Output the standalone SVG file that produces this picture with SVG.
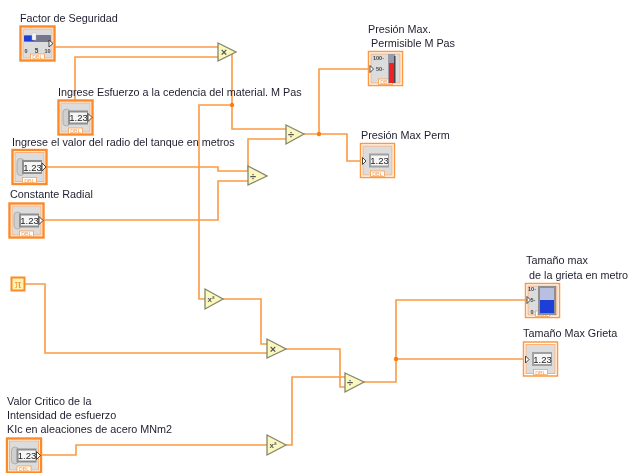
<svg xmlns="http://www.w3.org/2000/svg" width="631" height="473" viewBox="0 0 631 473">
<style>
svg>g{filter:url(#soft)}
text{font-family:"Liberation Sans",sans-serif;font-size:10.8px;fill:#1f1f30}
.w{fill:none;stroke:#fb9a45;stroke-width:1.6}
.out{fill:none;stroke:#fb9a45;stroke-width:1.5}
.ctlo{fill:none;stroke:#fb8a2a;stroke-width:2.4}
.bg{fill:#dcdcdc;stroke:#fbb27a;stroke-width:1}
.tri{fill:#fbf8bf;stroke:#85856a;stroke-width:1.3}
.op{font-size:11px;font-weight:bold;fill:#555;text-anchor:middle}
.sq{font-size:8px;font-weight:bold;fill:#555;text-anchor:middle}
.dbl{font-size:5.5px;fill:#fb9a45;text-anchor:middle}
.num{font-size:9.500px;fill:#222;text-anchor:middle}
.tick{font-size:5.500px;fill:#444;text-anchor:middle;font-weight:bold}
.j{fill:#fb7d10}
.dt{fill:#fff;stroke:#fb9f4c;stroke-width:.8}
.term{fill:#fff;stroke:#333;stroke-width:.9}
</style>
<defs>
<filter id="soft" filterUnits="userSpaceOnUse" x="0" y="0" width="631" height="473"><feGaussianBlur stdDeviation="0.35"/></filter>
<g id="frameC"><rect x=".5" y=".5" width="34" height="34" fill="#fff" class="ctlo"/><rect x="3" y="3" width="29" height="29" class="bg"/><rect x="10.500" y="28" width="14" height="5.500" class="dt"/><text x="17.500" y="33" class="dbl">DBL</text></g>
<g id="frameI"><rect x=".5" y=".5" width="34" height="34" fill="#fff" class="out"/><rect x="3" y="3" width="29" height="29" class="bg"/><rect x="10.500" y="28" width="14" height="5.500" class="dt"/><text x="17.500" y="33" class="dbl">DBL</text></g>
<g id="numC"><use href="#frameC"/><rect x="5" y="9" width="7" height="17" rx="3.500" fill="#cfcfcf" stroke="#999" stroke-width=".6"/><rect x="10" y="10.500" width="20" height="14" fill="#8e8e8e"/><rect x="12" y="12.500" width="17" height="10" fill="#f6f6f6"/><text x="20.500" y="21" class="num">1.23</text><path d="M30 13.500l4 4-4 4z" class="term"/></g>
<g id="numI"><use href="#frameI"/><rect x="9" y="10.500" width="20" height="14" fill="#a0a0a0"/><rect x="11" y="12.500" width="17" height="10" fill="#f6f6f6"/><text x="19.500" y="21" class="num">1.23</text><path d="M2.500 14.500l3.500 3.500-3.500 3.500z" class="term"/></g>
</defs>

<g id="connectors">
<path class="w" d="M54 47H218"/>
<path class="w" d="M75 100V57H218"/>
<path class="w" d="M232 52V129H286"/>
<path class="w" d="M232 105H199V299H205"/>
<path class="w" d="M248 170V139H286"/>
<path class="w" d="M46 167H218V171H248"/>
<path class="w" d="M43 220H218V181H248"/>
<path class="w" d="M304 134H347V161H361"/>
<path class="w" d="M319 134V69H368"/>
<path class="w" d="M25 284H45V353H267"/>
<path class="w" d="M223 299H261V344H267"/>
<path class="w" d="M286 349H340V387H345"/>
<path class="w" d="M41 455H76V445H267"/>
<path class="w" d="M286 445H292V377H345"/>
<path class="w" d="M364 382H396V300H527"/>
<path class="w" d="M396 359H524"/>
<circle class="j" cx="232" cy="105" r="2.200"/>
<circle class="j" cx="319" cy="134" r="2.200"/>
<circle class="j" cx="396" cy="359" r="2.200"/>
</g>

<g id="factor-seguridad">
<use href="#frameC" x="20" y="26"/>
<rect x="24" y="35" width="27" height="7" rx="1" fill="#76768c"/><rect x="24" y="36" width="10" height="5" fill="#1e3fd6"/><rect x="32" y="33" width="4" height="7" fill="#f4f4f4" stroke="#bbb" stroke-width=".4"/>
<text x="26" y="52.500" class="tick">0</text><text x="36.500" y="53" class="tick" style="font-size:6.500px">5</text><text x="47.500" y="52.500" class="tick">10</text>
<path d="M49 40l4 3.500-4 3.500z" class="term"/>
<text x="20" y="22">Factor de Seguridad</text>
</g>
<g id="esfuerzo"><use href="#numC" x="58" y="100"/><text x="58" y="96">Ingrese Esfuerzo a la cedencia del material. M Pas</text></g>
<g id="radio"><use href="#numC" x="12" y="149.500"/><text x="12" y="146">Ingrese el valor del radio del tanque en metros</text></g>
<g id="constante"><use href="#numC" x="9" y="203"/><text x="10" y="198">Constante Radial</text></g>
<g id="pi"><rect x="11.500" y="277.500" width="13" height="13" fill="#fdf3b0" stroke="#fb8a2a" stroke-width="2"/><text x="18" y="288" style="font-family:'Liberation Serif',serif;font-size:13px;fill:#fb8a2a;text-anchor:middle">π</text></g>
<g id="valor-critico"><use href="#numC" x="6.500" y="438"/>
<text x="7" y="405">Valor Critico de la</text><text x="7" y="419">Intensidad de esfuerzo</text><text x="7" y="433">KIc en aleaciones de acero MNm2</text></g>

<g id="mult-1"><path class="tri" d="M218 43L236 52L218 61Z"/><text x="224" y="56" class="op">×</text></g>
<g id="div-1"><path class="tri" d="M286 125L304 134L286 144Z"/><text x="291" y="138" class="op">÷</text></g>
<g id="div-2"><path class="tri" d="M248 166L267 176L248 185Z"/><text x="253" y="180" class="op">÷</text></g>
<g id="square-1"><path class="tri" d="M205 289L223 299L205 309Z"/><text x="211" y="302" class="sq">x²</text></g>
<g id="mult-2"><path class="tri" d="M267 339L286 349L267 358Z"/><text x="273" y="353" class="op">×</text></g>
<g id="square-2"><path class="tri" d="M267 435L286 445L267 455Z"/><text x="273" y="448" class="sq">x²</text></g>
<g id="div-3"><path class="tri" d="M345 373L364 382L345 392Z"/><text x="350" y="386" class="op">÷</text></g>

<g id="presion-tanque"><use href="#frameI" x="368" y="51"/>
<rect x="388" y="54" width="7" height="29" fill="#9a9aa8"/><rect x="389" y="63" width="6" height="20" fill="#ee2020"/><rect x="394" y="56" width="1.500" height="27" fill="#444"/>
<text x="378.500" y="60" class="tick">100-</text><text x="380" y="71" class="tick">50-</text>
<path d="M370 65.500l3.500 3.500-3.500 3.500z" class="term"/>
<text x="368" y="33">Presión Max.</text><text x="371" y="47">Permisible M Pas</text></g>
<g id="presion-num"><use href="#numI" x="360" y="143"/><text x="361" y="139">Presión Max Perm</text></g>
<g id="tamano-tanque"><use href="#frameI" x="525" y="283"/>
<rect x="538" y="286" width="18" height="29" fill="#8f8f8f"/><rect x="540" y="288" width="14" height="25" fill="#b9bfe0"/><rect x="540" y="300" width="14" height="13" fill="#1e3fd6"/>
<text x="532" y="291" class="tick">10-</text><text x="533" y="302" class="tick">5-</text><text x="532" y="314" class="tick">0</text>
<path d="M527 296.500l3.500 3.500-3.500 3.500z" class="term"/>
<text x="526" y="264">Tamaño max</text><text x="529" y="279">de la grieta en metro</text></g>
<g id="tamano-num"><use href="#numI" x="523" y="341.500"/><text x="523" y="337">Tamaño Max Grieta</text></g>
</svg>
